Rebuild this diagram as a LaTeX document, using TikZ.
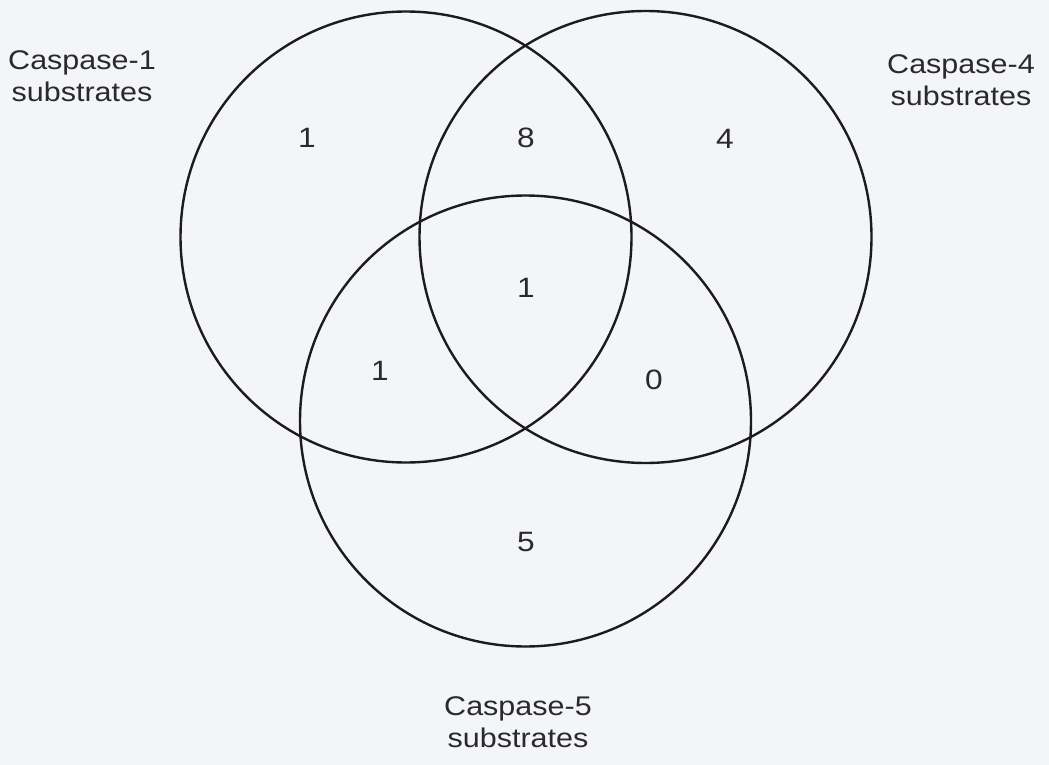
\documentclass[tikz,border=0pt]{standalone}
\usepackage{fontspec}
\setmainfont{Liberation Sans}
\newfontfamily\labfont[FakeStretch=1.13]{Liberation Sans}
\definecolor{bg}{HTML}{F4F5F9}
\definecolor{ink}{HTML}{1C1C1C}
\definecolor{txt}{HTML}{2A2A2A}
\begin{document}
\begin{tikzpicture}[x=1pt,y=-1pt,
  setcircle/.style={draw=ink,line width=2.4pt},
  numlabel/.style={anchor=base,inner sep=0pt,text=txt,font=\labfont\fontsize{28}{32}\selectfont},
  setlabel/.style={anchor=base,inner sep=0pt,text=txt,align=center,font=\labfont\fontsize{27}{31.5}\selectfont}]
\fill[bg] (0,0) rectangle (1049,765);
\useasboundingbox (0,0) rectangle (1049,765);
\node[setcircle,circle,minimum size=451pt,inner sep=0pt] (c1) at (406,237) {};
\node[setcircle,circle,minimum size=452pt,inner sep=0pt] (c4) at (645.5,237) {};
\node[setcircle,circle,minimum size=451pt,inner sep=0pt] (c5) at (525.5,421) {};
\node[setlabel] (l1) at (82,101.5) {Caspase-1\\substrates};
\node[setlabel] (l4) at (961,105.5) {Caspase-4\\substrates};
\node[setlabel] (l5) at (518,747) {Caspase-5\\substrates};
\node[numlabel] (n1) at (307,147) {1};
\node[numlabel] (n14) at (526,147) {8};
\node[numlabel] (n4) at (725,148) {4};
\node[numlabel] (n145) at (526,297) {1};
\node[numlabel] (n15) at (380,380) {1};
\node[numlabel] (n45) at (654,389) {0};
\node[numlabel] (n5) at (526,551) {5};
\end{tikzpicture}
\end{document}
